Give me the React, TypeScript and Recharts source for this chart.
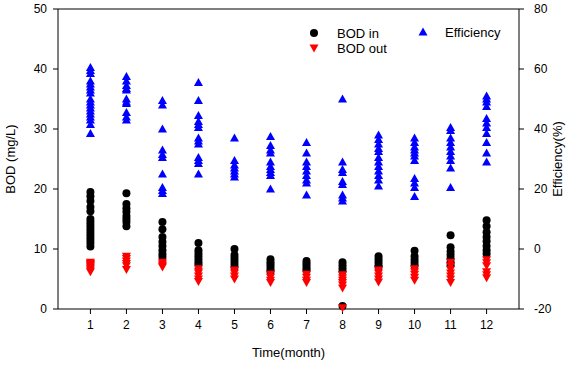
import React from 'react';
import { ReferenceLine, Scatter, ScatterChart, XAxis, YAxis, Label } from 'recharts';

const months = [1, 2, 3, 4, 5, 6, 7, 8, 9, 10, 11, 12];

// BOD influent (mg/L), one list per month
const bodIn = [
  [19.5, 18.8, 18, 17, 16.3, 15, 14.5, 14, 13.5, 13, 12.5, 12, 11.5, 11, 10.4],
  [19.3, 17.5, 16.8, 16.2, 15.5, 15, 14.5, 13.8],
  [14.5, 13.3, 12, 11.2, 10.5, 9.8, 9.2, 8.7],
  [11, 9.8, 9.3, 8.8, 8.3, 7.8, 7.4],
  [10, 9, 8.5, 8, 7.5, 7],
  [8.3, 7.8, 7.4, 7, 6.6, 6.2],
  [8, 7.6, 7.2, 6.8, 6.4],
  [7.8, 7.3, 6.8, 6.3, 0.5],
  [8.8, 8.3, 7.8, 7.3, 7],
  [9.7, 8.8, 8.2, 7.7, 7.2],
  [12.3, 10.3, 9.6, 9, 8.4, 7.8, 7.3],
  [14.8, 13.8, 12.8, 12, 11.3, 10.5, 9.8, 9.2]
];

// BOD effluent (mg/L)
const bodOut = [
  [7.8, 7.6, 7.4, 7.2, 7, 6.8, 6.5, 6.2],
  [8.8, 8.4, 8, 7.6, 7.2, 6.6],
  [7.8, 7.5, 7.2, 7],
  [6.7, 6.3, 6, 5.5, 5, 4.6],
  [6.5, 6, 5.5, 5],
  [5.8, 5.3, 4.8, 4.4],
  [5.8, 5.3, 4.8, 4.4],
  [5.7, 5.2, 4.8, 4.4, 4, 3.5, 0.2],
  [6.5, 6, 5.5, 5, 4.5],
  [6.7, 6.2, 5.8, 5.3, 4.8],
  [7.8, 7.2, 6.6, 6, 5.5, 5, 4.4],
  [8.2, 7.7, 7.2, 6.2, 5.7, 5.2]
];

// removal efficiency (%)
const efficiency = [
  [60.5, 59.5, 58.5, 56, 55, 54, 53, 52, 50, 49, 48, 47, 46, 45, 44, 43, 41.5, 38.5],
  [57.5, 56, 54.5, 53.5, 53, 50, 49, 48.5, 45.5, 44, 43],
  [49.5, 48, 40, 33, 31.5, 30.5, 25, 20.5, 19.5, 18.5],
  [55.5, 49.5, 44.5, 42.5, 41.5, 40.5, 37, 36, 35, 30.5, 29.5, 28.5, 25],
  [37, 29.5, 28, 27, 26, 25, 24],
  [37.5, 34.5, 33, 32, 29, 27.5, 26.5, 25.5, 24.5, 20],
  [35.5, 32, 29, 27.5, 26, 24.5, 23, 22, 18],
  [50, 29, 26.5, 25.5, 22.5, 21.5, 18, 17, 16],
  [38, 36.5, 35, 33.5, 32.5, 30.5, 29, 27.5, 26, 24.5, 23, 21],
  [37, 35.5, 34, 33, 32, 31, 29.5, 23.5, 22, 20.5, 17.5],
  [40.5, 39.5, 37, 35.5, 34, 32.5, 31, 29.5, 27, 20.5],
  [51, 50, 49, 47.5, 43.5, 42, 40.5, 38.5, 35.5, 32, 29]
];

const bodTicks = [0, 10, 20, 30, 40, 50];
const effTicks = [-20, 0, 20, 40, 60, 80];

const toPoints = (rows: number[][]) =>
  months.flatMap((m, i) => rows[i].map((v) => ({ x: m, y: v })));

const inData = toPoints(bodIn);
const outData = toPoints(bodOut);
const effData = toPoints(efficiency);

const font = '"Liberation Sans", Arial, sans-serif';
const tickStyle = { fontSize: 12, fill: '#000', fontFamily: font };

const Dot = (p: any) => <circle cx={p.cx} cy={p.cy} r={4} fill="#000" />;
const Down = (p: any) => (
  <path d={`M${p.cx - 4.5},${p.cy - 3.5}L${p.cx + 4.5},${p.cy - 3.5}L${p.cx},${p.cy + 4.5}Z`} fill="#ff0000" />
);
const Up = (p: any) => (
  <path d={`M${p.cx - 4.5},${p.cy + 3.5}L${p.cx + 4.5},${p.cy + 3.5}L${p.cx},${p.cy - 4.5}Z`} fill="#0000ff" />
);

function LegendBox() {
  const txt = { position: 'absolute' as const, fontSize: 13, fontFamily: font, color: '#000', lineHeight: '15px' };
  return (
    <div style={{ position: 'absolute', left: 0, top: 0, width: 568, height: 365, pointerEvents: 'none' }}>
      <svg width={568} height={365} style={{ position: 'absolute', left: 0, top: 0 }}>
        <circle cx={314} cy={33} r={4} fill="#000" />
        <path d="M309.5,44.5L318.5,44.5L314,52.5Z" fill="#ff0000" />
        <path d="M418.5,35.5L427.5,35.5L423,27.5Z" fill="#0000ff" />
      </svg>
      <span style={{ ...txt, left: 337, top: 26 }}>BOD in</span>
      <span style={{ ...txt, left: 337, top: 41 }}>BOD out</span>
      <span style={{ ...txt, left: 445, top: 25 }}>Efficiency</span>
    </div>
  );
}

export default function App() {
  return (
    <div style={{ position: 'absolute', left: 0, top: 0, width: 568, height: 365, background: '#fff' }}>
      <ScatterChart width={568} height={365} margin={{ top: 9, right: 0, bottom: 0, left: 0 }}>
        <XAxis
          type="number"
          dataKey="x"
          domain={[0.1, 12.9]}
          ticks={months}
          allowDataOverflow
          height={56}
          stroke="#000"
          tickSize={5}
          tickMargin={6}
          tick={tickStyle}
        >
          <Label value="Time(month)" position="insideBottom" offset={8} style={{ fontSize: 13, fill: '#000', fontFamily: font }} />
        </XAxis>
        <YAxis
          yAxisId="bod"
          type="number"
          dataKey="y"
          domain={[0, 50]}
          ticks={bodTicks}
          width={58}
          stroke="#000"
          tickSize={5}
          tickMargin={6}
          tick={tickStyle}
        >
          <Label value="BOD (mg/L)" angle={-90} position="insideLeft" offset={10} style={{ fontSize: 13, fill: '#000', fontFamily: font, textAnchor: 'middle' }} />
        </YAxis>
        <YAxis
          yAxisId="eff"
          orientation="right"
          type="number"
          dataKey="y"
          domain={[-20, 80]}
          ticks={effTicks}
          width={49}
          stroke="#000"
          tickSize={5}
          tickMargin={10}
          tick={tickStyle}
        >
          <Label value="Efficiency(%)" angle={-90} position="insideRight" offset={11} style={{ fontSize: 13, fill: '#000', fontFamily: font, textAnchor: 'middle' }} />
        </YAxis>
        <ReferenceLine yAxisId="bod" y={50} stroke="#000" />
        <Scatter name="BOD in" data={inData} yAxisId="bod" shape={Dot} isAnimationActive={false} />
        <Scatter name="BOD out" data={outData} yAxisId="bod" shape={Down} isAnimationActive={false} />
        <Scatter name="Efficiency" data={effData} yAxisId="eff" shape={Up} isAnimationActive={false} />
      </ScatterChart>
      <LegendBox />
    </div>
  );
}
